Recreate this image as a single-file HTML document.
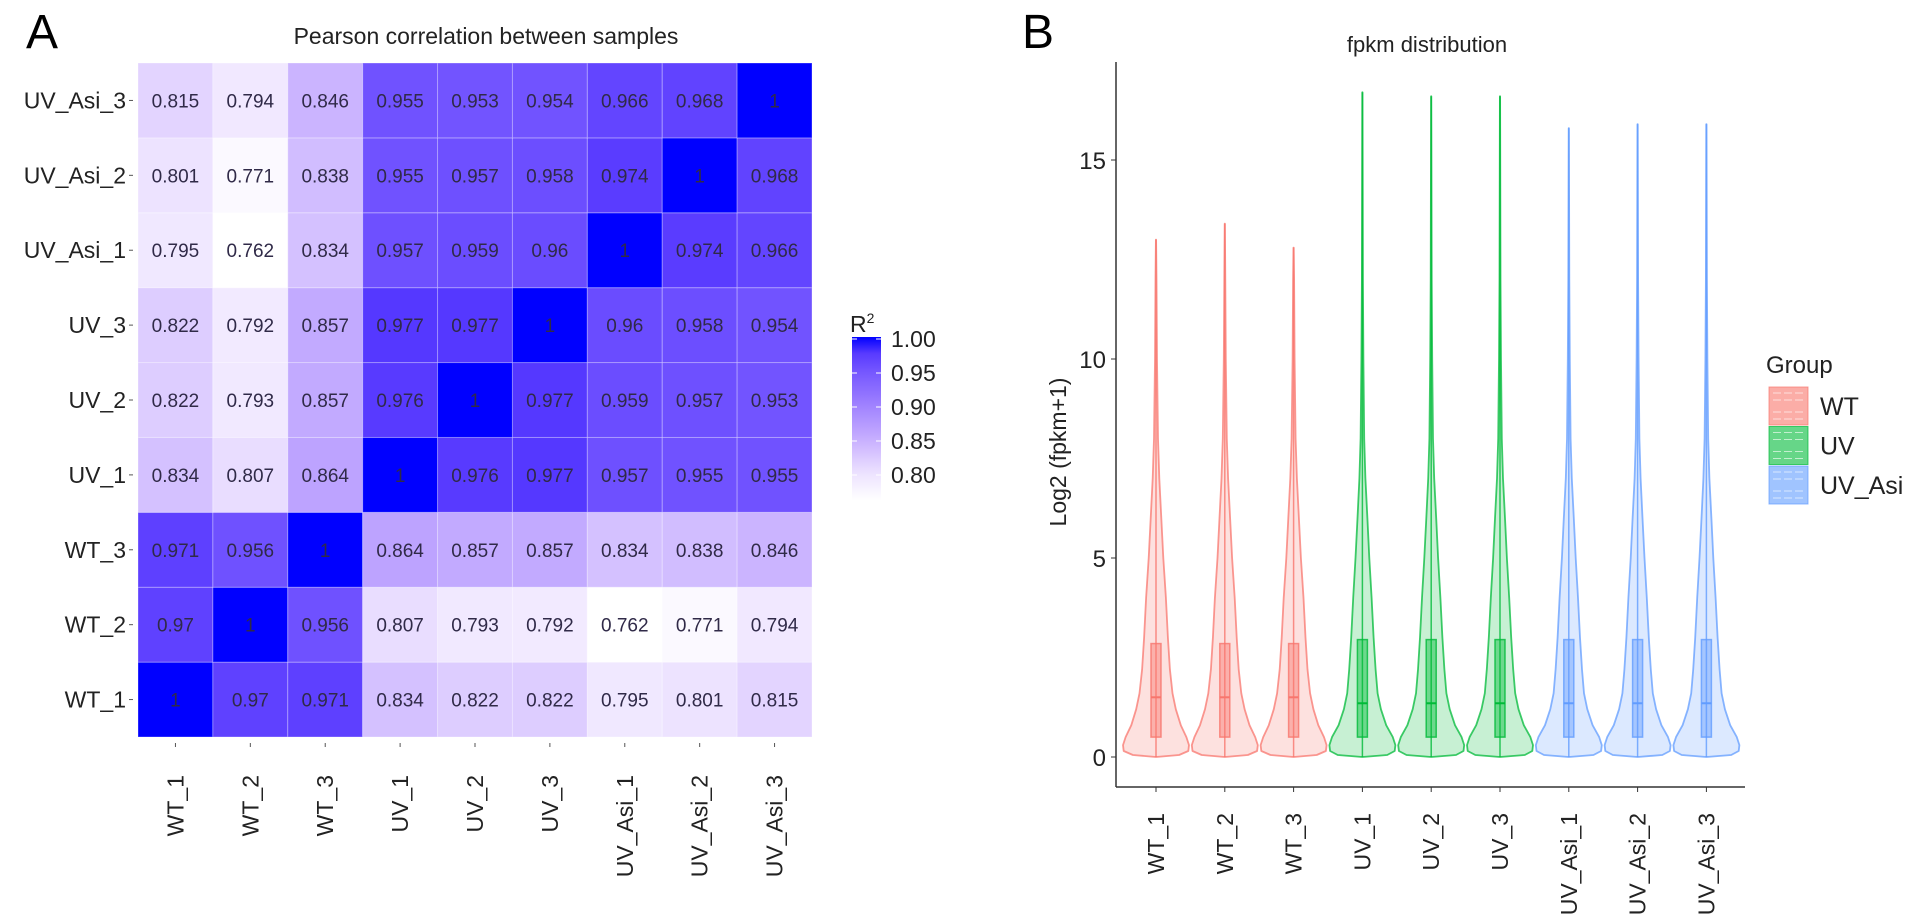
<!DOCTYPE html>
<html><head><meta charset="utf-8">
<style>
html,body{margin:0;padding:0;background:#fff;}
svg{display:block;font-family:"Liberation Sans",Arial,sans-serif;}
</style></head>
<body>
<svg id="fig" width="1913" height="919" viewBox="0 0 1913 919" xmlns="http://www.w3.org/2000/svg">
<text x="26" y="48" font-size="48" fill="#000">A</text>
<text x="1022" y="48" font-size="48" fill="#000">B</text>
<text x="486" y="44" font-size="23" text-anchor="middle" fill="#222">Pearson correlation between samples</text>
<text x="1427" y="52" font-size="22" text-anchor="middle" fill="#222">fpkm distribution</text>
<g id="heat"></g>
<g id="cbar"></g>
<g id="violin"></g>
</svg>
<script>
const samples = ["WT_1","WT_2","WT_3","UV_1","UV_2","UV_3","UV_Asi_1","UV_Asi_2","UV_Asi_3"];
// rows from bottom (WT_1) to top (UV_Asi_3); columns same order
const corrRows = [
 [1,0.97,0.971,0.834,0.822,0.822,0.795,0.801,0.815],
 [0.97,1,0.956,0.807,0.793,0.792,0.762,0.771,0.794],
 [0.971,0.956,1,0.864,0.857,0.857,0.834,0.838,0.846],
 [0.834,0.807,0.864,1,0.976,0.977,0.957,0.955,0.955],
 [0.822,0.793,0.857,0.976,1,0.977,0.959,0.957,0.953],
 [0.822,0.792,0.857,0.977,0.977,1,0.96,0.958,0.954],
 [0.795,0.762,0.834,0.957,0.959,0.96,1,0.974,0.966],
 [0.801,0.771,0.838,0.955,0.957,0.958,0.974,1,0.968],
 [0.815,0.794,0.846,0.955,0.953,0.954,0.966,0.968,1]
];
const cbarTicks = [0.80,0.85,0.90,0.95,1.00];
const groups = ["WT","UV","UV_Asi"];
const sampleGroup = [0,0,0,1,1,1,2,2,2];
const violinMax = [13.0,13.4,12.8,16.7,16.6,16.6,15.8,15.9,15.9];
const q1 = [0.5,0.5,0.5,0.5,0.5,0.5,0.5,0.5,0.5];
const medians = [1.5,1.5,1.5,1.35,1.35,1.35,1.35,1.35,1.35];
const q3 = [2.85,2.85,2.85,2.95,2.95,2.95,2.95,2.95,2.95];
const densLevels = [0.05,0.15,0.3,0.5,0.8,1.2,1.6,2.2,3,4,5,6,7,8,10,12];
const densities = [
 [0.70,0.98,1.0,0.92,0.75,0.6,0.5,0.42,0.36,0.3,0.22,0.16,0.1,0.06,0.03,0.015],
 [0.75,0.98,1.0,0.92,0.72,0.56,0.46,0.4,0.34,0.28,0.21,0.15,0.09,0.055,0.03,0.015],
 [0.75,0.98,1.0,0.92,0.72,0.56,0.46,0.4,0.34,0.28,0.21,0.15,0.09,0.055,0.03,0.015]
];
const yTicks = [0,5,10,15];
const groupColors = ["#F8766D","#00BA38","#619CFF"];

const NS="http://www.w3.org/2000/svg";
function mk(tag,attrs,parent){const e=document.createElementNS(NS,tag);for(const k in attrs)e.setAttribute(k,attrs[k]);parent.appendChild(e);return e;}

// ---------- heatmap ----------
const H=document.getElementById('heat');
const hx0=138,hx1=812,hy0=63,hy1=737;
const cw=(hx1-hx0)/samples.length, ch=(hy1-hy0)/samples.length;
const cmin=0.762,cmax=1.0;
const stops=[[0,[255,255,255]],[0.16,[238,228,255]],[0.37,[200,176,255]],[0.58,[160,130,255]],[0.81,[112,82,255]],[0.9,[88,58,255]],[1,[0,0,255]]];
function colorOf(v){let t=(v-cmin)/(cmax-cmin);t=Math.max(0,Math.min(1,t));
 for(let i=1;i<stops.length;i++){if(t<=stops[i][0]){const a=stops[i-1],b=stops[i];const f=(t-a[0])/(b[0]-a[0]);
 const c=a[1].map((x,j)=>Math.round(x+(b[1][j]-x)*f));return `rgb(${c[0]},${c[1]},${c[2]})`;}}return "rgb(0,0,255)";}
const colX=i=>hx0+i*cw;
const rowY=r=>hy1-(r+1)*ch;
corrRows.forEach((row,r)=>{row.forEach((v,c)=>{
 const rect=mk('rect',{x:colX(c),y:rowY(r),width:cw,height:ch,fill:colorOf(v),stroke:'rgba(255,255,255,0.3)','stroke-width':1},H);
 
 
 const t=mk('text',{x:colX(c)+cw/2,y:rowY(r)+ch/2+7,'font-size':19,'text-anchor':'middle',fill:'#302a48'},H);
 
 
 t.textContent=String(v);
});});
samples.forEach((s,i)=>{
 const yl=mk('text',{x:hx0-12,y:rowY(i)+ch/2+8,'font-size':23,'text-anchor':'end',fill:'#222'},H);
 
 
 yl.textContent=s;
 mk('line',{x1:hx0-9,x2:hx0-5,y1:rowY(i)+ch/2,y2:rowY(i)+ch/2,stroke:'#555'},H);
 const cx=colX(i)+cw/2;
 mk('line',{x1:cx,x2:cx,y1:hy1+6,y2:hy1+10,stroke:'#555'},H);
 const xl=mk('text',{transform:`translate(${cx+8},${hy1+38}) rotate(-90)`,'font-size':23,'text-anchor':'end',fill:'#222'},H);
 
 
 xl.textContent=s;
});
// colorbar
const C=document.getElementById('cbar');
const by=v=>475-(v-0.80)/0.05*34;
const defs=mk('defs',{},C);
const lg=mk('linearGradient',{id:'cg',x1:0,y1:1,x2:0,y2:0},defs);
for(let i=0;i<=20;i++){const v=cmin+(cmax-cmin)*i/20;mk('stop',{offset:i/20,'stop-color':colorOf(v)},lg);}
mk('rect',{x:852,y:by(1.0)-2,width:29,height:by(cmin)-by(1.0)+2,fill:'url(#cg)'},C);
const rt=mk('text',{x:850,y:332,'font-size':23,fill:'#222'},C);rt.innerHTML='R<tspan dy="-9" font-size="14">2</tspan>';
cbarTicks.forEach(v=>{
 const t=mk('text',{x:891,y:by(v)+8,'font-size':23,fill:'#222'},C);
 
 
 t.textContent=v.toFixed(2);
 mk('line',{x1:852,x2:857,y1:by(v),y2:by(v),stroke:'#fff'},C);
 mk('line',{x1:876,x2:881,y1:by(v),y2:by(v),stroke:'#fff'},C);
});

// ---------- violin ----------
const V=document.getElementById('violin');
const ax0=1116, ax1=1745, ay0=62, ayb=787;
const y=v=>757-v*39.8;
const xc=i=>1156+i*68.8;
const maxHalf=33;
mk('line',{x1:ax0,x2:ax0,y1:ay0,y2:ayb,stroke:'#333','stroke-width':1.5},V);
mk('line',{x1:ax0,x2:ax1,y1:ayb,y2:ayb,stroke:'#333','stroke-width':1.5},V);
yTicks.forEach(v=>{
 mk('line',{x1:ax0-5,x2:ax0,y1:y(v),y2:y(v),stroke:'#333'},V);
 const t=mk('text',{x:ax0-10,y:y(v)+9,'font-size':24,'text-anchor':'end',fill:'#222'},V);
 
 
 t.textContent=v;
});
const yt=mk('text',{transform:`translate(1066,452) rotate(-90)`,'font-size':23,'text-anchor':'middle',fill:'#222'},V);


yt.textContent='Log2 (fpkm+1)';
samples.forEach((s,i)=>{
 const g=sampleGroup[i], col=groupColors[g], d=densities[g], cx=xc(i);
 const lv=densLevels.filter(l=>l<violinMax[i]).concat([violinMax[i]]);
 const dv=lv.map((l,k)=>k<d.length&&l!==violinMax[i]?d[k]:0.004);
 let right=lv.map((l,k)=>[cx+dv[k]*maxHalf,y(l)]);
 let left=lv.map((l,k)=>[cx-dv[k]*maxHalf,y(l)]).reverse();
 const pts=[[cx,y(0.0)],...right,...left];
 const path=mk('path',{d:'M'+pts.map(p=>p[0].toFixed(1)+','+p[1].toFixed(1)).join('L')+'Z',fill:col,'fill-opacity':0.22,stroke:col,'stroke-opacity':0.75,'stroke-width':1.8,'stroke-linejoin':'round'},V);
 
 
 mk('line',{x1:cx,x2:cx,y1:y(violinMax[i]),y2:y(0),stroke:col,'stroke-opacity':0.8,'stroke-width':1.5},V);
 const box=mk('rect',{x:cx-5,y:y(q3[i]),width:10,height:y(q1[i])-y(q3[i]),fill:col,'fill-opacity':0.45,stroke:col,'stroke-opacity':0.8,'stroke-width':1.5},V);
 
 
 mk('line',{x1:cx-5,x2:cx+5,y1:y(medians[i]),y2:y(medians[i]),stroke:col,'stroke-width':2},V);
 mk('line',{x1:cx,x2:cx,y1:ayb,y2:ayb+5,stroke:'#333'},V);
 const xl=mk('text',{transform:`translate(${cx+8},${ayb+26}) rotate(-90)`,'font-size':23,'text-anchor':'end',fill:'#222'},V);
 
 
 xl.textContent=s;
});
// legend
const gt=mk('text',{x:1766,y:373,'font-size':24,fill:'#222'},V);


gt.textContent='Group';
groups.forEach((gname,k)=>{
 const top=387+k*39.5, col=groupColors[k];
 const r=mk('rect',{x:1769,y:top,width:39,height:38,fill:col,'fill-opacity':0.6,stroke:col,'stroke-opacity':0.7},V);
 
 
 [6,13,25,32].forEach(dy=>mk('line',{x1:1773,x2:1804,y1:top+dy,y2:top+dy,stroke:'#fff','stroke-opacity':0.6,'stroke-dasharray':'8,3'},V));
 const t=mk('text',{x:1820,y:top+28,'font-size':25,fill:'#222'},V);
 
 
 t.textContent=gname;
});
</script>
</body></html>
